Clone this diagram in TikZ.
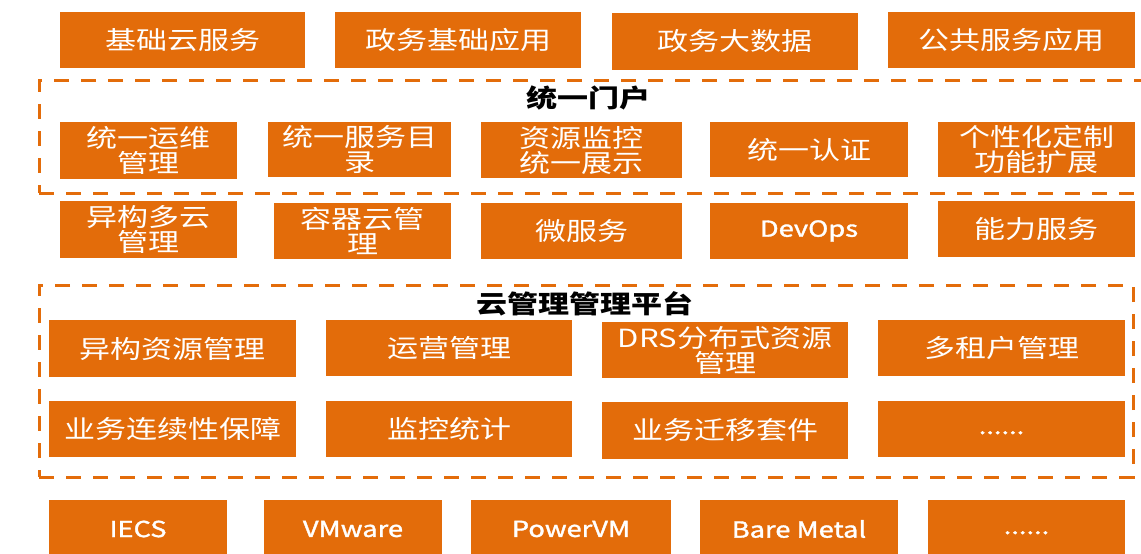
\documentclass[tikz,border=0pt]{standalone}
\usepackage{fontspec}
\setmainfont{Noto Sans CJK SC}[FakeStretch=1.24]
\newfontfamily\latf{Noto Sans CJK SC}[FakeStretch=1.24, FakeBold=1.6]
\definecolor{org}{RGB}{227,108,10}
\tikzset{
  box/.style={fill=org, draw=none, text=white, align=center, inner sep=0pt, outer sep=0pt,
    font=\fontsize{25}{25}\selectfont},
  lat/.style={font=\latf\fontsize{22}{25}\selectfont},
  frame/.style={draw=org, line width=3pt, dash pattern=on 15pt off 12pt},
  title/.style={font=\bfseries\fontsize{25}{25}\selectfont, text=black, inner sep=0pt}
}
\newcommand\bx[7][]{%
  \node[box,#1, minimum width={(#5-#3)*1pt}, minimum height={(#6-#4)*1pt}]
    (#2) at ({(#3+#5)/2},{(#4+#6)/2}) {#7};}
\newcommand\lowdots{\raisebox{-5pt}[0pt][0pt]{......}}
\begin{document}
\begin{tikzpicture}[x=1pt,y=-1pt]
\useasboundingbox (0,0) rectangle (1141,554);
\begin{scope}
\clip (0,0) rectangle (1141,554);
% row 1
\bx{r1a}{60}{12}{305}{68}{基础云服务}
\bx{r1b}{335}{12}{581}{68}{政务基础应用}
\bx{r1c}{612}{13}{858}{70}{政务大数据}
\bx{r1d}{888}{12}{1135}{68}{公共服务应用}
% portal frame
\node[frame, minimum width=1106pt, minimum height=113pt, inner sep=0pt] (f1) at (592,136.5) {};
\node[title] (t1) at (588,98) {统一门户};
% row 2
\bx{r2a}{60}{122}{237}{179}{统一运维\\管理}
\bx{r2b}{268}{122}{451}{177}{统一服务目\\录}
\bx{r2c}{481}{122}{682}{178}{资源监控\\统一展示}
\bx{r2d}{710}{122}{908}{177}{统一认证}
\bx{r2e}{938}{122}{1135}{177}{个性化定制\\功能扩展}
% row 3
\bx{r3a}{60}{201}{237}{258}{异构多云\\管理}
\bx{r3b}{274}{203}{451}{259}{容器云管\\理}
\bx{r3c}{481}{203}{682}{259}{微服务}
\bx[lat]{r3d}{710}{203}{908}{259}{DevOps}
\bx{r3e}{938}{201}{1135}{257}{能力服务}
% platform frame
\node[frame, minimum width=1094pt, minimum height=192pt, inner sep=0pt] (f2) at (586,381) {};
\node[title] (t2) at (585,304) {云管理管理平台};
% row 4
\bx{r4a}{49}{320}{296}{377}{异构资源管理}
\bx{r4b}{326}{320}{572}{376}{运营管理}
\bx{r4c}{602}{322}{848}{378}{DRS分布式资源\\管理}
\bx{r4d}{878}{320}{1125}{376}{多租户管理}
% row 5
\bx{r5a}{49}{401}{296}{457}{业务连续性保障}
\bx{r5b}{326}{401}{572}{457}{监控统计}
\bx{r5c}{602}{402}{848}{459}{业务迁移套件}
\bx[lat]{r5d}{878}{401}{1125}{457}{\lowdots}
% row 6
\bx[lat]{r6a}{49}{500}{227}{558}{IECS}
\bx[lat]{r6b}{264}{500}{442}{558}{VMware}
\bx[lat]{r6c}{471}{500}{671}{558}{PowerVM}
\bx[lat]{r6d}{700}{500}{898}{558}{Bare Metal}
\bx[lat]{r6e}{928}{500}{1125}{558}{\lowdots}
\end{scope}
\end{tikzpicture}
\end{document}
